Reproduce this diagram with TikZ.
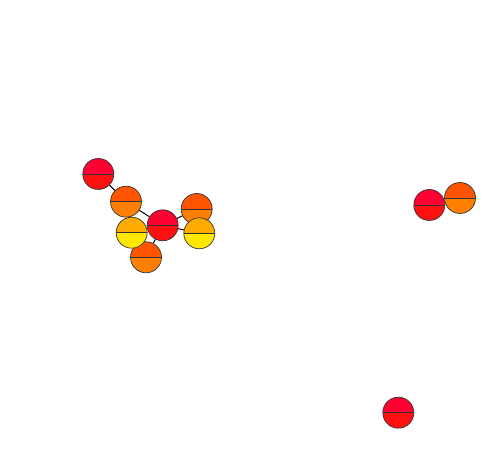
\documentclass[tikz,border=0pt]{standalone}
\usetikzlibrary{backgrounds}
\definecolor{rtop}{HTML}{FF0033}
\definecolor{rbot}{HTML}{FF1010}
\definecolor{otop}{HTML}{FF5500}
\definecolor{obot}{HTML}{FF8000}
\definecolor{ytop}{HTML}{FFAA00}
\definecolor{ybot}{HTML}{FFE800}
\definecolor{rim}{HTML}{333333}
\tikzset{
  half/.style 2 args={circle, minimum size=31pt, inner sep=0pt, draw=rim, line width=0.7pt,
    path picture={
      \fill[#1] (path picture bounding box.west) rectangle (path picture bounding box.north east);
      \fill[#2] (path picture bounding box.west) rectangle (path picture bounding box.south east);
      \draw[rim, line width=0.9pt] (path picture bounding box.west) -- (path picture bounding box.east);
    }},
  rednode/.style={half={rtop}{rbot}},
  orangenode/.style={half={otop}{obot}},
  yellownode/.style={half={ytop}{ybot}},
  link/.style={draw=black, line width=1pt}
}
\begin{document}
\begin{tikzpicture}[x=1pt,y=-1pt]
\useasboundingbox (0,0) rectangle (485,470);
\node[rednode] (A) at (98.3,174) {};
\node[orangenode] (B) at (126,201.7) {};
\node[orangenode] (E) at (146,257.3) {};
\node[yellownode] (D) at (131.7,232.7) {};
\node[orangenode] (F) at (196.7,209) {};
\node[yellownode] (G) at (199.3,233.3) {};
\node[rednode] (C) at (162.7,225.3) {};
\node[rednode] (H) at (429.3,205) {};
\node[orangenode] (I) at (460,198) {};
\node[rednode] (J) at (398.3,412.7) {};
\begin{scope}[on background layer]
\draw[link] (A) -- (B);
\draw[link] (B) -- (C);
\draw[link] (C) -- (F);
\draw[link] (C) -- (G);
\draw[link] (C) -- (E);
\end{scope}
\end{tikzpicture}
\end{document}
